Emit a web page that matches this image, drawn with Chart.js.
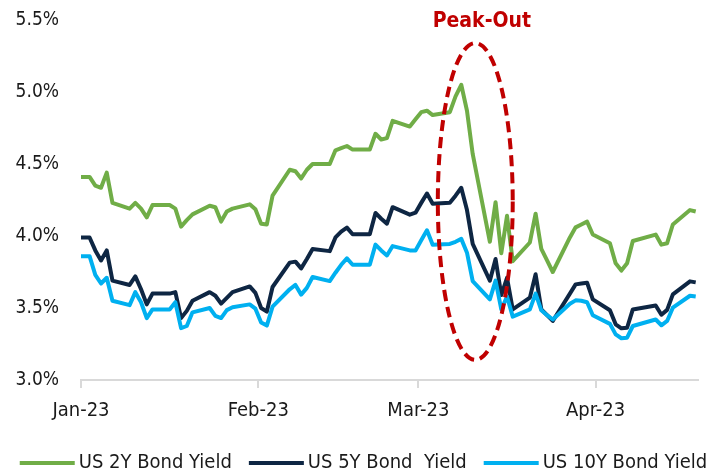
<!DOCTYPE html>
<html>
<head>
<meta charset="utf-8">
<script src="https://cdn.jsdelivr.net/npm/chart.js@4.4.1/dist/chart.umd.min.js"></script>
<style>
  html, body { margin: 0; padding: 0; background: #fff; }
  #chart { display: block; }
</style>
</head>
<body>
<canvas id="chart" width="727" height="475"></canvas>
<script>
// trading days shown in the chart
const dates = [
  '2022-12-30', '2023-01-02', '2023-01-03', '2023-01-04', '2023-01-05', '2023-01-06',
  '2023-01-09', '2023-01-10', '2023-01-11', '2023-01-12', '2023-01-13', '2023-01-16',
  '2023-01-17', '2023-01-18', '2023-01-19', '2023-01-20', '2023-01-23', '2023-01-24',
  '2023-01-25', '2023-01-26', '2023-01-27', '2023-01-30', '2023-01-31', '2023-02-01',
  '2023-02-02', '2023-02-03', '2023-02-06', '2023-02-07', '2023-02-08', '2023-02-09',
  '2023-02-10', '2023-02-13', '2023-02-14', '2023-02-15', '2023-02-16', '2023-02-17',
  '2023-02-20', '2023-02-21', '2023-02-22', '2023-02-23', '2023-02-24', '2023-02-27',
  '2023-02-28', '2023-03-01', '2023-03-02', '2023-03-03', '2023-03-06', '2023-03-07',
  '2023-03-08', '2023-03-09', '2023-03-10', '2023-03-13', '2023-03-14', '2023-03-15',
  '2023-03-16', '2023-03-17', '2023-03-20', '2023-03-21', '2023-03-22', '2023-03-23',
  '2023-03-24', '2023-03-27', '2023-03-28', '2023-03-29', '2023-03-30', '2023-03-31',
  '2023-04-03', '2023-04-04', '2023-04-05', '2023-04-06', '2023-04-07', '2023-04-11',
  '2023-04-12', '2023-04-13', '2023-04-14', '2023-04-17', '2023-04-18'
];

const us2y = [
  4.41, 4.41, 4.35, 4.335, 4.44, 4.23,
  4.19, 4.23, 4.19, 4.13, 4.215, 4.215,
  4.19, 4.065, 4.11, 4.15, 4.21, 4.20,
  4.10, 4.17, 4.19, 4.22, 4.185, 4.085,
  4.08, 4.28, 4.46, 4.45, 4.40, 4.46,
  4.50, 4.50, 4.595, 4.61, 4.625, 4.60,
  4.60, 4.71, 4.67, 4.68, 4.80, 4.76,
  4.81, 4.86, 4.87, 4.84, 4.86, 4.97,
  5.05, 4.87, 4.57, 3.96, 4.235, 3.88,
  4.14, 3.825, 3.955, 4.155, 3.91, 3.83,
  3.75, 3.99, 4.06, 4.08, 4.10, 4.01,
  3.95, 3.81, 3.76, 3.81, 3.965, 4.01,
  3.94, 3.95, 4.08, 4.18, 4.17
];

const us5y = [
  3.99, 3.99, 3.90, 3.83, 3.90, 3.69,
  3.66, 3.72, 3.63, 3.525, 3.60, 3.60,
  3.61, 3.43, 3.48, 3.55, 3.61, 3.585,
  3.53, 3.57, 3.61, 3.65, 3.605, 3.50,
  3.475, 3.646, 3.815, 3.822, 3.775, 3.84,
  3.91, 3.895, 3.99, 4.03, 4.058, 4.012,
  4.012, 4.16, 4.12, 4.086, 4.20, 4.148,
  4.162, 4.23, 4.295, 4.224, 4.231, 4.28,
  4.335, 4.18, 3.945, 3.69, 3.84, 3.59,
  3.71, 3.49, 3.572, 3.734, 3.49, 3.45,
  3.41, 3.60, 3.664, 3.67, 3.676, 3.56,
  3.484, 3.387, 3.359, 3.363, 3.49, 3.517,
  3.453, 3.487, 3.595, 3.685, 3.678
];

const us10y = [
  3.86, 3.86, 3.73, 3.67, 3.71, 3.55,
  3.52, 3.61, 3.54, 3.43, 3.49, 3.49,
  3.54, 3.36, 3.375, 3.47, 3.50, 3.445,
  3.43, 3.485, 3.505, 3.525, 3.495, 3.40,
  3.378, 3.51, 3.63, 3.66, 3.593, 3.64,
  3.715, 3.687, 3.745, 3.80, 3.845, 3.80,
  3.80, 3.94, 3.90, 3.865, 3.93, 3.90,
  3.90, 3.97, 4.04, 3.94, 3.945, 3.96,
  3.98, 3.884, 3.686, 3.56, 3.69, 3.49,
  3.58, 3.44, 3.49, 3.60, 3.484, 3.45,
  3.42, 3.53, 3.553, 3.55, 3.54, 3.45,
  3.39, 3.317, 3.29, 3.294, 3.375, 3.42,
  3.38, 3.41, 3.502, 3.585, 3.58
];

const seriesNames = ['US 2Y Bond Yield', 'US 5Y Bond  Yield', 'US 10Y Bond Yield'];
const seriesColors = ['#70AD47', '#0E2643', '#00B0F0'];

const monthStarts = ['2023-01-01', '2023-02-01', '2023-03-01', '2023-04-01'];
const monthLabels = ['Jan-23', 'Feb-23', 'Mar-23', 'Apr-23'];
const yTicks = [3.0, 3.5, 4.0, 4.5, 5.0, 5.5];

const peakLabel = 'Peak-Out';

// day count from 1 Jan 2023
const dayOf = s => (Date.parse(s + 'T00:00:00Z') - Date.parse('2023-01-01T00:00:00Z')) / 864e5;

// each day's value sits in the middle of its day
const toPoints = vals => vals.map((v, i) => ({ x: dayOf(dates[i]) + 0.5, y: v }));

const FONT = "'DejaVu Sans Condensed', 'DejaVu Sans', sans-serif";
const RED = '#C00000';

// dashed ellipse round the March peak, in axis units
const peak = { from: 62.4, to: 75.5, low: 3.14, high: 5.34, labelX: 70.1, labelY: 5.49 };

const peakPlugin = {
  id: 'peakOut',
  afterDatasetsDraw(chart) {
    const { ctx, scales: { x, y } } = chart;
    const x1 = x.getPixelForValue(peak.from), x2 = x.getPixelForValue(peak.to);
    const y1 = y.getPixelForValue(peak.high), y2 = y.getPixelForValue(peak.low);
    ctx.save();
    ctx.beginPath();
    ctx.ellipse((x1 + x2) / 2, (y1 + y2) / 2, (x2 - x1) / 2, (y2 - y1) / 2, 0, 0, Math.PI * 2);
    ctx.setLineDash([11, 6]);
    ctx.lineWidth = 4;
    ctx.strokeStyle = RED;
    ctx.stroke();
    ctx.setLineDash([]);
    ctx.font = 'bold 21px ' + FONT;
    ctx.fillStyle = RED;
    ctx.textAlign = 'center';
    ctx.textBaseline = 'middle';
    ctx.fillText(peakLabel, x.getPixelForValue(peak.labelX), y.getPixelForValue(peak.labelY));
    ctx.restore();
  }
};

const legendPlugin = {
  id: 'bottomLegend',
  afterDraw(chart) {
    const ctx = chart.ctx;
    const lineW = 55, textGap = 4, itemGap = 17, yMid = 463;
    ctx.save();
    ctx.font = '20px ' + FONT;
    const widths = seriesNames.map(n => ctx.measureText(n).width);
    const total = widths.reduce((a, w) => a + lineW + textGap + w, 0) + itemGap * (seriesNames.length - 1);
    let cx = (chart.width - total) / 2;
    ctx.textBaseline = 'middle';
    ctx.textAlign = 'left';
    seriesNames.forEach((name, i) => {
      ctx.fillStyle = seriesColors[i];
      ctx.fillRect(cx, yMid - 2, lineW, 4);
      cx += lineW + textGap;
      ctx.fillStyle = '#1a1a1a';
      ctx.fillText(name, cx, yMid);
      cx += widths[i] + itemGap;
    });
    ctx.restore();
  }
};

const makeDataset = (i, vals, order) => ({
  label: seriesNames[i],
  data: toPoints(vals),
  borderColor: seriesColors[i],
  backgroundColor: seriesColors[i],
  borderWidth: 4,
  pointRadius: 0,
  tension: 0,
  borderJoinStyle: 'round',
  clip: 0,
  order: order
});

new Chart(document.getElementById('chart'), {
  type: 'line',
  data: {
    datasets: [
      makeDataset(0, us2y, 3),
      makeDataset(1, us5y, 2),
      makeDataset(2, us10y, 1)
    ]
  },
  options: {
    responsive: false,
    animation: false,
    devicePixelRatio: 1,
    layout: { padding: { top: 20, right: 29, left: 0, bottom: 0 } },
    plugins: {
      legend: { display: false },
      tooltip: { enabled: false }
    },
    scales: {
      x: {
        type: 'linear',
        min: 0,
        max: 107.9,
        afterBuildTicks: scale => {
          scale.ticks = monthStarts.map(d => ({ value: dayOf(d) }));
        },
        afterFit: scale => {
          scale.height = 95;
          scale.paddingLeft = 0;
          scale.paddingRight = 0;
        },
        ticks: {
          autoSkip: false,
          maxRotation: 0,
          padding: 11,
          color: '#1a1a1a',
          font: { family: FONT, size: 20 },
          callback: (v, i) => monthLabels[i]
        },
        grid: {
          drawOnChartArea: false,
          drawTicks: true,
          tickLength: 8,
          color: '#D9D9D9',
          lineWidth: 2
        },
        border: { display: true, color: '#D9D9D9', width: 2 }
      },
      y: {
        min: 3,
        max: 5.5,
        afterBuildTicks: scale => {
          scale.ticks = yTicks.map(v => ({ value: v }));
        },
        afterFit: scale => {
          scale.width = 81;
          scale.paddingTop = 0;
          scale.paddingBottom = 0;
        },
        ticks: {
          padding: 22,
          color: '#1a1a1a',
          font: { family: FONT, size: 19 },
          callback: v => v.toFixed(1) + '%'
        },
        grid: { display: false, drawTicks: false },
        border: { display: false }
      }
    }
  },
  plugins: [peakPlugin, legendPlugin]
});
</script>
</body>
</html>
